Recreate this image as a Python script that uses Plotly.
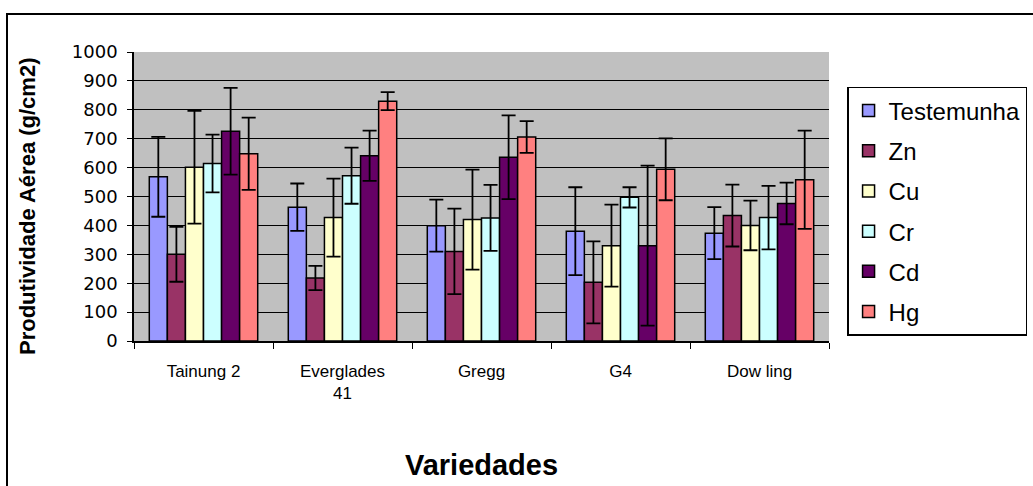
import plotly.graph_objects as go

categories = ["Tainung 2", "Everglades<br>41", "Gregg", "G4", "Dow ling"]
series_names = ["Testemunha", "Zn", "Cu", "Cr", "Cd", "Hg"]

testemunha = [568, 463, 399, 380, 373]
zn = [300, 218, 310, 203, 434]
cu = [601, 427, 420, 330, 400]
cr = [614, 572, 426, 497, 427]
cd = [726, 641, 636, 330, 476]
hg = [648, 830, 706, 594, 558]

testemunha_err = [138, 82, 90, 152, 90]
zn_err = [95, 42, 148, 142, 107]
cu_err = [195, 135, 173, 142, 86]
cr_err = [100, 97, 114, 35, 110]
cd_err = [150, 87, 145, 277, 72]
hg_err = [125, 31, 55, 107, 170]

values = [testemunha, zn, cu, cr, cd, hg]
errors = [testemunha_err, zn_err, cu_err, cr_err, cd_err, hg_err]
colors = ["#9999FF", "#993366", "#FFFFCC", "#CCFFFF", "#660066", "#FF8080"]

FONT = "Liberation Sans, Arial, sans-serif"
WIDE = "DejaVu Sans, Liberation Sans, sans-serif"

fig = go.Figure()
for name, vals, errs, col in zip(series_names, values, errors, colors):
    fig.add_trace(go.Bar(
        name=name, x=categories, y=vals, legendgroup=name,
        marker=dict(color=col, line=dict(color="black", width=1.5)),
        error_y=dict(type="data", array=errs, visible=True,
                     color="black", thickness=1.8, width=7),
    ))

fig.update_layout(
    width=1033, height=486,
    paper_bgcolor="white", plot_bgcolor="#C0C0C0",
    barmode="group", bargap=0.22, bargroupgap=0,
    margin=dict(l=134, r=204, t=52, b=145, autoexpand=False),
    font=dict(family=FONT, size=16, color="black"),
    legend=dict(
        x=1.026, y=0.879, xanchor="left", yanchor="top",
        bgcolor="white", bordercolor="black", borderwidth=1.5,
        font=dict(family=FONT, size=24, color="black"),
        tracegroupgap=6,
    ),
    showlegend=True,
)

fig.update_yaxes(
    range=[0, 1000], dtick=100, tick0=0,
    showgrid=True, gridcolor="black", gridwidth=1,
    showline=True, linecolor="black", linewidth=1.5,
    ticks="outside", ticklen=5, tickcolor="black",
    ticklabelstandoff=6,
    zeroline=False,
    tickfont=dict(family=WIDE, size=18),
)
fig.update_xaxes(
    showline=True, linecolor="black", linewidth=1.5,
    ticks="outside", ticklen=6, tickcolor="black", tickson="boundaries",
    ticklabelstandoff=14,
    tickfont=dict(family=FONT, size=17),
    title=dict(text="<b>Variedades</b>", font=dict(family=FONT, size=29), standoff=52),
)

# y-axis title
fig.add_annotation(
    text="<b>Produtividade Aérea (g/cm2)</b>", textangle=-90,
    xref="paper", yref="paper", x=(27 - 134) / 695, y=(341 - 207) / 289,
    xanchor="center", yanchor="middle", showarrow=False,
    font=dict(family=FONT, size=22, color="black"),
)

# outer chart border
fig.add_shape(type="rect", xref="paper", yref="paper",
              x0=(7 - 134) / 695, x1=(1040 - 134) / 695,
              y0=(341 - 495) / 289, y1=(341 - 14) / 289,
              line=dict(color="black", width=2), fillcolor="rgba(0,0,0,0)", layer="below")

fig.write_html("out.html", config={"displayModeBar": False},
               post_script="document.body.style.margin='0px';")
